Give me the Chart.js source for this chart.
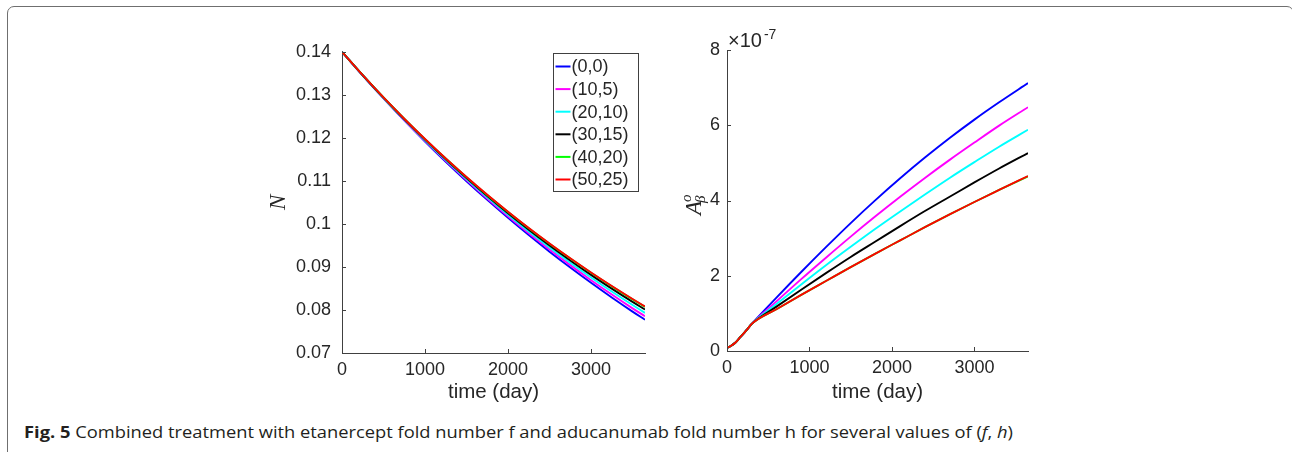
<!DOCTYPE html>
<html>
<head>
<meta charset="utf-8">
<script src="https://cdn.jsdelivr.net/npm/chart.js@4.4.1/dist/chart.umd.min.js"></script>
<style>
  html, body { margin: 0; padding: 0; background: #fff; }
  body { width: 1292px; height: 452px; position: relative; overflow: hidden; }
  #frame { position: absolute; left: 7px; top: 6px; width: 1287px; height: 480px;
           border: 1.5px solid #6f6f6f; border-radius: 7px; box-sizing: border-box; }
  canvas { position: absolute; }
  #leftChart { left: 250px; top: 30px; }
  #rightChart { left: 670px; top: 20px; }
  #caption { position: absolute; left: 24px; top: 421px; line-height: 22px;
             font-family: 'Open Sans', 'Noto Sans', sans-serif; font-size: 16.5px;
             color: #231f20; white-space: nowrap; transform-origin: 0 50%; }
</style>
</head>
<body>
<div id="frame"></div>
<canvas id="leftChart" width="420" height="385"></canvas>
<canvas id="rightChart" width="380" height="395"></canvas>
<div id="caption"><b>Fig. 5</b> Combined treatment with etanercept fold number f and aducanumab fold number h for several values of (<i>f</i>, <i>h</i>)</div>
<script>
// legend labels (f,h) and line colours
const caseLabels = ['(0,0)', '(10,5)', '(20,10)', '(30,15)', '(40,20)', '(50,25)'];
const lineColors = ['#0000ff', '#ff00ff', '#00ffff', '#000000', '#00ff00', '#ff0000'];

// left panel: N over time
const nDays = [0, 250, 500, 750, 1000, 1250, 1500, 1750, 2000, 2250, 2500, 2750, 3000, 3250, 3500, 3650];
const N_00   = [0.14, 0.13447, 0.12916, 0.12405, 0.11915, 0.11444, 0.10992, 0.10558, 0.10141, 0.09740, 0.09355, 0.08986, 0.08631, 0.08290, 0.07962, 0.07772];
const N_105  = [0.14, 0.13450, 0.12922, 0.12415, 0.11930, 0.11464, 0.11018, 0.10589, 0.10178, 0.09783, 0.09404, 0.09042, 0.08693, 0.08359, 0.08038, 0.07853];
const N_2010 = [0.14, 0.13452, 0.12928, 0.12426, 0.11945, 0.11484, 0.11043, 0.10620, 0.10215, 0.09826, 0.09454, 0.09098, 0.08756, 0.08429, 0.08115, 0.07933];
const N_3015 = [0.14, 0.13455, 0.12934, 0.12436, 0.11960, 0.11503, 0.11067, 0.10650, 0.10250, 0.09867, 0.09501, 0.09152, 0.08816, 0.08496, 0.08188, 0.08011];
const N_4020 = [0.14, 0.13457, 0.12938, 0.12444, 0.11971, 0.11519, 0.11087, 0.10673, 0.10279, 0.09900, 0.09539, 0.09195, 0.08864, 0.08549, 0.08247, 0.08073];
const N_5025 = [0.14, 0.13457, 0.12939, 0.12445, 0.11973, 0.11521, 0.11090, 0.10677, 0.10283, 0.09905, 0.09545, 0.09201, 0.08871, 0.08557, 0.08256, 0.08082];

// right panel: A_beta^o over time (units of 1e-7)
const aDays = [0, 50, 100, 150, 200, 250, 300, 600, 900, 1200, 1500, 1800, 2100, 2400, 2700, 3000, 3300, 3650];
const A_00   = [0.08, 0.14, 0.22, 0.34, 0.46, 0.59, 0.72, 1.42, 2.10, 2.76, 3.40, 4.01, 4.59, 5.14, 5.66, 6.15, 6.61, 7.12];
const A_105  = [0.08, 0.14, 0.22, 0.34, 0.46, 0.59, 0.72, 1.32, 1.91, 2.48, 3.04, 3.58, 4.10, 4.60, 5.08, 5.54, 5.99, 6.48];
const A_2010 = [0.08, 0.14, 0.22, 0.34, 0.46, 0.59, 0.72, 1.25, 1.77, 2.28, 2.77, 3.25, 3.71, 4.16, 4.60, 5.02, 5.43, 5.88];
const A_3015 = [0.08, 0.14, 0.22, 0.34, 0.46, 0.59, 0.72, 1.18, 1.63, 2.07, 2.50, 2.91, 3.32, 3.72, 4.10, 4.48, 4.85, 5.26];
const A_4020 = [0.08, 0.14, 0.22, 0.34, 0.46, 0.59, 0.72, 1.11, 1.49, 1.86, 2.23, 2.59, 2.94, 3.29, 3.63, 3.96, 4.28, 4.64];
const A_5025 = [0.08, 0.14, 0.22, 0.34, 0.46, 0.59, 0.72, 1.11, 1.49, 1.86, 2.23, 2.59, 2.94, 3.29, 3.63, 3.96, 4.28, 4.65];

// tick values
const dayTicks = [0, 1000, 2000, 3000];
const nTicks = [0.07, 0.08, 0.09, 0.1, 0.11, 0.12, 0.13, 0.14];
const aTicks = [0, 2, 4, 6, 8];

const axisColor = '#404040';
const textColor = '#262626';
const tickFont = { family: "'Liberation Sans', Arial, sans-serif", size: 18 };

function makeDatasets(days, series) {
  return series.map((vals, i) => ({
    label: caseLabels[i],
    data: vals.map((v, j) => ({ x: days[j], y: v })),
    borderColor: lineColors[i],
    borderWidth: 1.9,
    pointRadius: 0,
    fill: false,
    order: series.length - i,   // last case drawn on top, as in matlab
    cubicInterpolationMode: 'monotone'
  }));
}

// small tick marks pointing into the plot
const innerTicks = {
  id: 'innerTicks',
  afterDatasetsDraw(chart) {
    const { ctx, chartArea: a, scales: { x, y } } = chart;
    ctx.save();
    ctx.strokeStyle = axisColor;
    ctx.lineWidth = 1;
    ctx.beginPath();
    x.ticks.forEach(t => {
      const px = Math.round(x.getPixelForValue(t.value)) + 0.5;
      ctx.moveTo(px, a.bottom); ctx.lineTo(px, a.bottom - 4);
    });
    y.ticks.forEach(t => {
      const py = Math.round(y.getPixelForValue(t.value)) + 0.5;
      ctx.moveTo(a.left, py); ctx.lineTo(a.left + 4, py);
    });
    ctx.stroke();
    ctx.restore();
  }
};

const boxLegend = {
  id: 'boxLegend',
  afterDraw(chart) {
    const { ctx, chartArea: a } = chart;
    const w = 85, h = 138;
    const x0 = Math.round(a.right - 7 - w) + 0.5, y0 = Math.round(a.top + 1) + 0.5;
    ctx.save();
    ctx.fillStyle = '#fff';
    ctx.fillRect(x0, y0, w, h);
    ctx.strokeStyle = axisColor;
    ctx.lineWidth = 1;
    ctx.strokeRect(x0, y0, w, h);
    ctx.font = "18px 'Liberation Sans', Arial, sans-serif";
    ctx.textBaseline = 'middle';
    chart.data.datasets.forEach((ds, i) => {
      const yy = y0 + 13 + i * 22.6;
      ctx.strokeStyle = ds.borderColor;
      ctx.lineWidth = 2;
      ctx.beginPath();
      ctx.moveTo(x0 + 2, yy); ctx.lineTo(x0 + 17, yy);
      ctx.stroke();
      ctx.fillStyle = textColor;
      ctx.fillText(ds.label, x0 + 18, yy + 1);
    });
    ctx.restore();
  }
};

// A^o_beta label and the x10^-7 multiplier
const abetaLabels = {
  id: 'abetaLabels',
  afterDraw(chart) {
    const { ctx, chartArea: a } = chart;
    ctx.save();
    ctx.fillStyle = textColor;
    ctx.textBaseline = 'alphabetic';
    ctx.font = "20px 'Liberation Sans', Arial, sans-serif";
    ctx.fillText('\u00d710', a.left + 1, a.top - 3);
    const w = ctx.measureText('\u00d710').width;
    ctx.font = "14px 'Liberation Sans', Arial, sans-serif";
    ctx.fillText('-7', a.left + 3 + w, a.top - 11);

    ctx.translate(31, 195);
    ctx.rotate(-Math.PI / 2);
    ctx.font = "italic 23px 'Liberation Serif', 'DejaVu Serif', serif";
    ctx.fillText('A', 0, 0);
    const aw = ctx.measureText('A').width;
    ctx.font = "italic 15px 'Liberation Serif', 'DejaVu Serif', serif";
    ctx.fillText('o', aw - 1, -10);
    ctx.fillText('\u03b2', aw - 2, 4);
    ctx.restore();
  }
};

function makeChart(id, days, series, yTicks, opts) {
  return new Chart(document.getElementById(id), {
    type: 'line',
    data: { datasets: makeDatasets(days, series) },
    options: {
      responsive: false,
      animation: false,
      layout: { padding: { top: opts.padTop, right: opts.padRight, left: 0, bottom: 0 } },
      plugins: { legend: { display: false }, tooltip: { enabled: false } },
      scales: {
        x: {
          type: 'linear', min: 0, max: 3650,
          grid: { display: false, drawTicks: false },
          border: { display: true, color: axisColor, width: 1 },
          afterBuildTicks: s => { s.ticks = dayTicks.map(v => ({ value: v })); },
          afterFit: s => { s.height = opts.xHeight; },
          ticks: { autoSkip: false, maxRotation: 0, padding: 6, color: textColor, font: tickFont,
                   callback: v => String(v) },
          title: { display: true, text: 'time (day)', color: textColor,
                   font: { family: "'Liberation Sans', Arial, sans-serif", size: 20.5 },
                   padding: { top: 0, bottom: 10 } }
        },
        y: {
          type: 'linear', min: yTicks[0], max: yTicks[yTicks.length - 1],
          grid: { display: false, drawTicks: false },
          border: { display: true, color: axisColor, width: 1 },
          afterBuildTicks: s => { s.ticks = yTicks.map(v => ({ value: v })); },
          afterFit: s => { s.width = opts.yWidth; },
          ticks: { autoSkip: false, padding: opts.yPad, color: textColor, font: tickFont,
                   callback: v => String(v) },
          title: opts.yTitle
        }
      }
    },
    plugins: opts.plugins
  });
}

makeChart('leftChart', nDays, [N_00, N_105, N_2010, N_3015, N_4020, N_5025], nTicks, {
  padTop: 21, padRight: 25, xHeight: 62, yWidth: 92, yPad: 11,
  yTitle: { display: true, text: 'N', color: textColor,
            font: { family: "'Liberation Serif', 'DejaVu Serif', serif", style: 'italic', size: 23 },
            padding: { top: 15, bottom: 0 } },
  plugins: [innerTicks, boxLegend]
});

makeChart('rightChart', aDays, [A_00, A_105, A_2010, A_3015, A_4020, A_5025], aTicks, {
  padTop: 30, padRight: 22, xHeight: 64, yWidth: 57, yPad: 7,
  yTitle: { display: false },
  plugins: [innerTicks, abetaLabels]
});

// squeeze caption to the width it has in the figure
function fitCaption() {
  const c = document.getElementById('caption');
  c.style.transform = 'none';
  const w = c.getBoundingClientRect().width;
  c.style.transform = 'scaleX(' + (989 / w) + ')';
}
fitCaption();
if (document.fonts) document.fonts.ready.then(fitCaption);
</script>
</body>
</html>
